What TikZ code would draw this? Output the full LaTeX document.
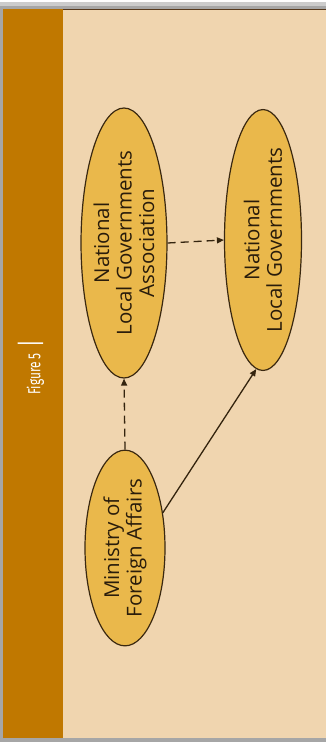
\documentclass[tikz,border=0pt]{standalone}
\usepackage{fontspec}
\setmainfont{Open Sans}
\newfontfamily\condfont[FakeStretch=0.68]{Fira Sans}
\usetikzlibrary{shapes.geometric,arrows.meta}
\definecolor{barbrown}{HTML}{C07800}
\definecolor{panelbeige}{HTML}{F0D5AF}
\definecolor{ellfill}{HTML}{EAB84B}
\definecolor{ink}{HTML}{3A2810}
\tikzset{
  org/.style={ellipse, draw=ink, line width=1.2pt, fill=ellfill, rotate=90, inner sep=0pt,
    align=center, font=\fontsize{20.5}{22.5}\selectfont, text=ink!70!black},
  link/.style={draw=ink!90!black, line width=1.3pt, -{Triangle[length=7pt,width=6pt]}},
  dashlink/.style={link, dash pattern=on 8pt off 5pt}
}
\begin{document}
\begin{tikzpicture}[x=1pt,y=-1pt]
\useasboundingbox (0,0) rectangle (326,742);
\fill[white] (0,0) rectangle (326,742);
\fill[black!35] (0,4) rectangle (326,742);
\fill[black!20] (0,2) rectangle (326,6);
\fill[panelbeige] (3,9) rectangle (326,738);
\draw[black!55!brown, line width=0.8pt] (3,738) -- (3,9) -- (326,9);
\fill[barbrown] (3,9) rectangle (63,738);
\node[rotate=90, text=white, font=\condfont\fontsize{17.5}{17.5}\selectfont] (fig) at (31,367) {Figure 5 \,{\fontsize{28}{28}\selectfont |}};
\node[org, minimum width=270pt, minimum height=80pt] (nlga) at (124,243) {National\\Local Governments\\Association};
\node[org, minimum width=244pt, minimum height=77pt] (nlg) at (263,240) {National\\Local Governments};
\node[org, minimum width=190pt, minimum height=80pt] (mfa) at (125,548) {Ministry of\\Foreign Affairs};
\draw[dashlink] (mfa.east) -- (nlga.west);
\draw[dashlink] (nlga.south) -- (nlg.north);
\draw[link] (mfa.-47) -- (nlg.177);
\end{tikzpicture}
\end{document}
